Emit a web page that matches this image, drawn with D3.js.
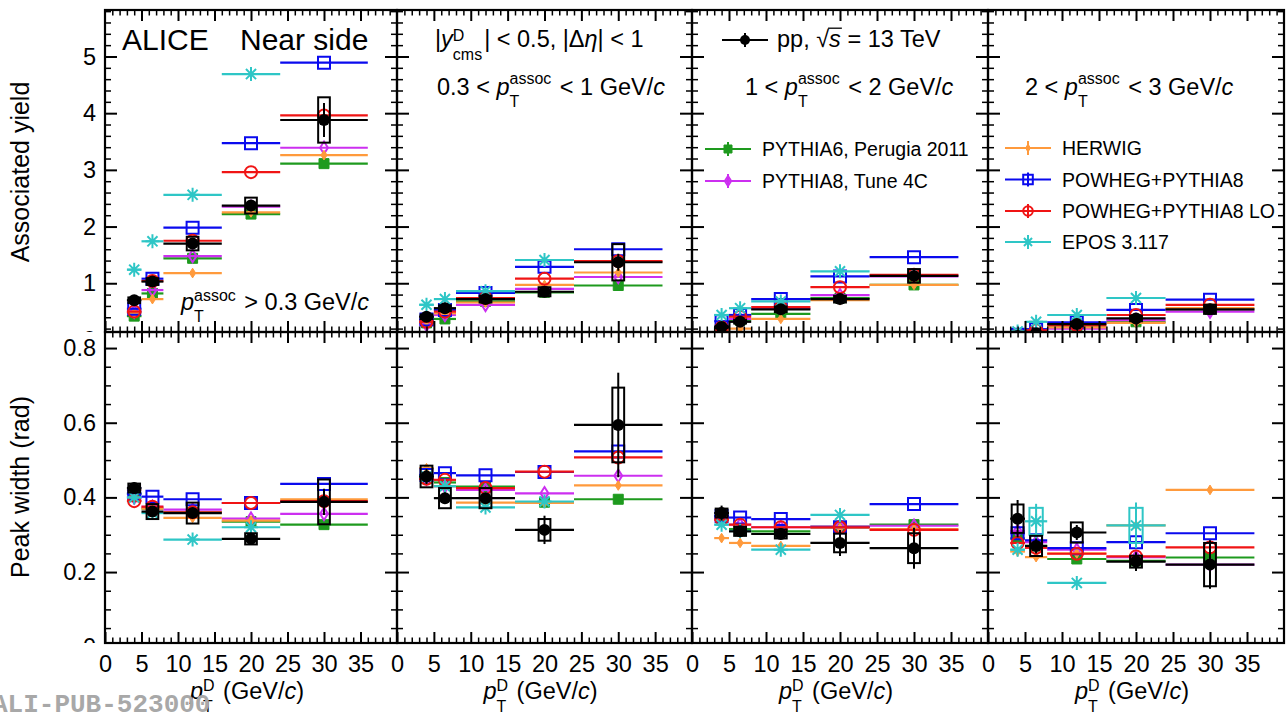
<!DOCTYPE html>
<html>
<head>
<meta charset="utf-8">
<script src="https://cdn.jsdelivr.net/npm/d3@7"></script>
<style>
body { margin: 0; background: #fff; }
svg { display: block; }
text { font-family: "Liberation Sans", Arial, Helvetica, sans-serif; white-space: pre; fill: #000; }
</style>
</head>
<body>
<script>
// D-meson pT bins
var binLo  = [3, 5, 8, 16, 24];
var binHi  = [5, 8, 16, 24, 36];
var binMid = [4, 6.5, 12, 20, 30];

// one row per pT^assoc panel: >0.3, 0.3-1, 1-2, 2-3 GeV/c
var dataYield     = [[0.70, 1.03, 1.70, 2.37, 3.88], [0.41, 0.56, 0.72, 0.85, 1.37], [0.23, 0.32, 0.54, 0.72, 1.13], [0.07, 0.12, 0.28, 0.38, 0.54]];
var dataYieldStat = [[0.03, 0.04, 0.06, 0.10, 0.30], [0.02, 0.03, 0.04, 0.07, 0.15], [0.02, 0.03, 0.04, 0.06, 0.10], [0.02, 0.02, 0.03, 0.04, 0.07]];
var dataYieldSyst = [[0.05, 0.06, 0.12, 0.14, 0.40], [0.04, 0.05, 0.06, 0.08, 0.32], [0.02, 0.03, 0.05, 0.06, 0.12], [0.02, 0.02, 0.04, 0.05, 0.08]];

var dataWidth     = [[0.425, 0.362, 0.358, 0.289, 0.388], [0.456, 0.398, 0.398, 0.313, 0.594], [0.358, 0.309, 0.302, 0.278, 0.264], [0.343, 0.270, 0.306, 0.228, 0.220]];
var dataWidthStat = [[0.015, 0.012, 0.012, 0.012, 0.035], [0.020, 0.015, 0.015, 0.038, 0.140], [0.020, 0.012, 0.012, 0.035, 0.055], [0.050, 0.020, 0.020, 0.025, 0.065]];
var dataWidthSyst = [[0.012, 0.020, 0.028, 0.015, 0.060], [0.029, 0.027, 0.027, 0.029, 0.100], [0.012, 0.012, 0.012, 0.025, 0.040], [0.038, 0.027, 0.027, 0.016, 0.058]];

var pythia6Yield = [[0.42, 0.82, 1.44, 2.22, 3.11], [0.30, 0.37, 0.68, 0.84, 0.96], [0.20, 0.35, 0.46, 0.74, 0.97], [0.07, 0.12, 0.22, 0.32, 0.54]];
var pythia8Yield = [[0.50, 0.88, 1.48, 2.35, 3.39], [0.27, 0.44, 0.62, 0.90, 1.11], [0.20, 0.37, 0.55, 0.79, 1.12], [0.07, 0.12, 0.20, 0.35, 0.50]];
var herwigYield  = [[0.48, 0.72, 1.18, 2.25, 3.26], [0.33, 0.47, 0.66, 0.97, 1.19], [0.18, 0.20, 0.37, 0.70, 0.97], [0.06, 0.10, 0.22, 0.30, 0.56]];
var powhegYield  = [[0.55, 1.08, 1.98, 3.47, 4.89], [0.36, 0.53, 0.83, 1.29, 1.60], [0.33, 0.44, 0.72, 1.12, 1.46], [0.09, 0.19, 0.31, 0.53, 0.71]];
var powhegLOYield = [[0.50, 1.04, 1.75, 2.96, 3.96], [0.32, 0.50, 0.74, 1.08, 1.39], [0.22, 0.41, 0.58, 0.93, 1.15], [0.08, 0.17, 0.26, 0.44, 0.62]];
var eposYield    = [[1.24, 1.74, 2.56, 4.69, null], [0.62, 0.72, 0.86, 1.41, null], [0.44, 0.56, 0.68, 1.21, null], [0.15, 0.32, 0.44, 0.74, null]];

var pythia6Width = [[0.41, 0.37, 0.36, 0.335, 0.327], [0.45, 0.44, 0.429, 0.387, 0.395], [0.35, 0.315, 0.309, 0.322, 0.327], [0.29, 0.27, 0.235, 0.23, 0.239]];
var pythia8Width = [[0.40, 0.375, 0.367, 0.343, 0.356], [0.45, 0.43, 0.42, 0.411, 0.458], [0.345, 0.327, 0.32, 0.322, 0.324], [0.31, 0.28, 0.26, 0.24, 0.22]];
var herwigWidth  = [[0.42, 0.37, 0.345, 0.338, 0.395], [0.478, 0.43, 0.386, 0.385, 0.432], [0.291, 0.278, 0.27, 0.318, 0.315], [0.255, 0.24, 0.25, 0.325, 0.42]];
var powhegWidth  = [[0.41, 0.402, 0.395, 0.385, 0.436], [0.46, 0.465, 0.459, 0.468, 0.523], [0.35, 0.346, 0.342, 0.32, 0.382], [0.304, 0.285, 0.264, 0.28, 0.304]];
var powhegLOWidth = [[0.39, 0.375, 0.36, 0.385, 0.39], [0.45, 0.447, 0.425, 0.469, 0.507], [0.34, 0.327, 0.32, 0.32, 0.313], [0.278, 0.265, 0.249, 0.242, 0.266]];
var eposWidth    = [[0.40, 0.358, 0.287, 0.32, null], [0.456, 0.43, 0.373, 0.389, null], [0.327, 0.31, 0.26, 0.353, null], [0.26, 0.336, 0.171, 0.325, null]];
var eposWidthSyst = [[0, 0, 0, 0, null], [0, 0, 0, 0, null], [0, 0, 0, 0, null], [0, 0.036, 0, 0.047, null]];

var xTicks = [0, 5, 10, 15, 20, 25, 30, 35];

var models = [
	{name: "PYTHIA6, Perugia 2011", color: "#1e9a1e", shape: "square", fill: true, size: 5, yield: pythia6Yield, width: pythia6Width},
	{name: "PYTHIA8, Tune 4C", color: "#cc2ff0", shape: "diamond", fill: false, size: 4.6, yield: pythia8Yield, width: pythia8Width},
	{name: "HERWIG", color: "#ff9a3c", shape: "diamond", fill: true, size: 3.6, yield: herwigYield, width: herwigWidth},
	{name: "POWHEG+PYTHIA8", color: "#0a0aee", shape: "square", fill: false, size: 6, yield: powhegYield, width: powhegWidth},
	{name: "POWHEG+PYTHIA8 LO", color: "#f01414", shape: "circle", fill: false, size: 6, yield: powhegLOYield, width: powhegLOWidth},
	{name: "EPOS 3.117", color: "#2ec6c6", shape: "star", fill: false, size: 7, yield: eposYield, width: eposWidth, widthSyst: eposWidthSyst}
];

var svg = d3.select("body").append("svg")
	.attr("width", 1287)
	.attr("height", 719);
var defs = svg.append("defs");

var xEdges = [105, 397, 692, 988, 1284];
var rows = [
	{key: "yield", top: 10, bottom: 332, domain: [0.14, 5.82], major: [0, 1, 2, 3, 4, 5],
	 minor: d3.range(1, 30).filter(function(i) { return i % 5 != 0; }).map(function(i) { return i * 0.2; }),
	 fmt: d3.format("d")},
	{key: "width", top: 332, bottom: 643, domain: [0.01, 0.843], major: [0, 0.2, 0.4, 0.6, 0.8],
	 minor: d3.range(1, 17).filter(function(i) { return i % 4 != 0; }).map(function(i) { return i * 0.05; }),
	 fmt: function(d) { return d == 0 ? "0" : d3.format(".1f")(d); }}
];

function markerPath(shape, s) {
	if (shape == "square") return "M" + (-s) + "," + (-s) + "h" + 2 * s + "v" + 2 * s + "h" + (-2 * s) + "Z";
	if (shape == "circle") return "M" + (-s) + ",0A" + s + "," + s + " 0 1,0 " + s + ",0A" + s + "," + s + " 0 1,0 " + (-s) + ",0Z";
	if (shape == "diamond") return "M0," + (-1.35 * s) + "L" + 0.85 * s + ",0L0," + 1.35 * s + "L" + (-0.85 * s) + ",0Z";
	// asterisk, 8 arms
	var a = 0.72 * s;
	return "M" + (-s) + ",0H" + s + "M0," + (-s) + "V" + s +
		"M" + (-a) + "," + (-a) + "L" + a + "," + a + "M" + (-a) + "," + a + "L" + a + "," + (-a);
}

function drawMarker(g, m, cx, cy) {
	g.append("path")
		.attr("d", markerPath(m.shape, m.size))
		.attr("transform", "translate(" + cx + "," + cy + ")")
		.attr("fill", m.fill ? m.color : "none")
		.attr("stroke", m.color)
		.attr("stroke-width", m.fill ? 1 : 2);
}

function toPoints(vals) {
	return vals.map(function(v, i) { return {lo: binLo[i], hi: binHi[i], mid: binMid[i], v: v, i: i}; })
		.filter(function(d) { return d.v != null; });
}

// text with stacked super/subscripts, ROOT-latex like
function richText(g, x, y, parts, size, anchor) {
	var t = g.append("g");
	var cx = 0;
	parts.forEach(function(p) {
		if (p.sup !== undefined) {
			var small = size * 0.68;
			var s1 = t.append("text").attr("x", cx).attr("y", p.supDy || -10).style("font-size", small + "px").text(p.sup);
			var s2 = t.append("text").attr("x", cx).attr("y", p.subDy || 12).style("font-size", small + "px").text(p.sub);
			cx += Math.max(s1.node().getComputedTextLength(), s2.node().getComputedTextLength()) + 2;
		} else {
			var e = t.append("text").attr("x", cx).attr("y", 0).style("font-size", size + "px").text(p.t);
			if (p.i) e.style("font-style", "italic");
			var w = e.node().getComputedTextLength();
			if (p.over) {
				t.append("line").attr("x1", cx - 1).attr("x2", cx + w + 1)
					.attr("y1", -size * 0.8).attr("y2", -size * 0.8)
					.attr("stroke", "#000").attr("stroke-width", 1.3);
			}
			cx += w;
		}
	});
	var x0 = anchor == "middle" ? x - cx / 2 : (anchor == "end" ? x - cx : x);
	t.attr("transform", "translate(" + x0 + "," + y + ")");
}

function styleAxis(sel, width) {
	sel.select(".domain").remove();
	sel.selectAll("line").attr("stroke", "#000").attr("stroke-width", width);
	sel.selectAll("text").style("font-size", "23.5px");
}

rows.forEach(function(row, r) {
	var y = d3.scaleLinear().domain(row.domain).range([row.bottom, row.top]);

	for (var p = 0; p < 4; p++) {
		var x = d3.scaleLinear().domain([0, 40]).range([xEdges[p], xEdges[p + 1]]);
		var clipId = "clip" + r + "_" + p;
		defs.append("clipPath").attr("id", clipId).append("rect")
			.attr("x", xEdges[p]).attr("y", row.top)
			.attr("width", xEdges[p + 1] - xEdges[p]).attr("height", row.bottom - row.top);

		var plot = svg.append("g").attr("clip-path", "url(#" + clipId + ")");

		//	models
		models.forEach(function(m) {
			var pts = toPoints(m[row.key][p]);
			var syst = m[row.key + "Syst"];
			if (syst) {
				pts.forEach(function(d) {
					var e = syst[p][d.i];
					if (!e) return;
					plot.append("rect")
						.attr("x", x(d.mid - 0.9)).attr("width", x(d.mid + 0.9) - x(d.mid - 0.9))
						.attr("y", y(d.v + e)).attr("height", y(d.v - e) - y(d.v + e))
						.attr("fill", "none").attr("stroke", m.color).attr("stroke-width", 2);
					plot.append("line")
						.attr("x1", x(d.mid)).attr("x2", x(d.mid))
						.attr("y1", y(d.v + e * 1.3)).attr("y2", y(d.v - e * 1.3))
						.attr("stroke", m.color).attr("stroke-width", 2);
				});
			}
			plot.append("g").selectAll("line")
				.data(pts)
				.enter().append("line")
				.attr("x1", function(d) { return x(d.lo); })
				.attr("x2", function(d) { return x(d.hi); })
				.attr("y1", function(d) { return y(d.v); })
				.attr("y2", function(d) { return y(d.v); })
				.attr("stroke", m.color)
				.attr("stroke-width", 2.2);
			pts.forEach(function(d) { drawMarker(plot, m, x(d.mid), y(d.v)); });
		});

		//	data
		var vals = row.key == "yield" ? dataYield[p] : dataWidth[p];
		var stat = row.key == "yield" ? dataYieldStat[p] : dataWidthStat[p];
		var syst = row.key == "yield" ? dataYieldSyst[p] : dataWidthSyst[p];
		var dpts = toPoints(vals);

		plot.append("g").selectAll("rect")
			.data(dpts)
			.enter().append("rect")
			.attr("x", function(d) { return x(d.mid - 0.8); })
			.attr("width", function(d) { return x(d.mid + 0.8) - x(d.mid - 0.8); })
			.attr("y", function(d) { return y(d.v + syst[d.i]); })
			.attr("height", function(d) { return y(d.v - syst[d.i]) - y(d.v + syst[d.i]); })
			.attr("fill", "none")
			.attr("stroke", "#000")
			.attr("stroke-width", 2);

		var dg = plot.append("g");
		dg.selectAll(".hbar")
			.data(dpts)
			.enter().append("line")
			.attr("x1", function(d) { return x(d.lo); })
			.attr("x2", function(d) { return x(d.hi); })
			.attr("y1", function(d) { return y(d.v); })
			.attr("y2", function(d) { return y(d.v); })
			.attr("stroke", "#000").attr("stroke-width", 2.2);
		dg.selectAll(".vbar")
			.data(dpts)
			.enter().append("line")
			.attr("x1", function(d) { return x(d.mid); })
			.attr("x2", function(d) { return x(d.mid); })
			.attr("y1", function(d) { return y(d.v + stat[d.i]); })
			.attr("y2", function(d) { return y(d.v - stat[d.i]); })
			.attr("stroke", "#000").attr("stroke-width", 2);
		dg.selectAll("circle")
			.data(dpts)
			.enter().append("circle")
			.attr("cx", function(d) { return x(d.mid); })
			.attr("cy", function(d) { return y(d.v); })
			.attr("r", 6)
			.attr("fill", "#000");

		//	axes: ticks inward on all four sides
		var minorX = d3.range(1, 40).filter(function(i) { return i % 5 != 0; });
		svg.append("g").attr("transform", "translate(0," + row.bottom + ")")
			.call(d3.axisBottom(x).tickValues(xTicks).tickSizeInner(-11).tickSizeOuter(0).tickPadding(12)
				.tickFormat(r == 1 ? d3.format("d") : ""))
			.call(styleAxis, 2);
		svg.append("g").attr("transform", "translate(0," + row.bottom + ")")
			.call(d3.axisBottom(x).tickValues(minorX).tickSizeInner(-5.5).tickSizeOuter(0).tickFormat(""))
			.call(styleAxis, 1.5);
		svg.append("g").attr("transform", "translate(0," + row.top + ")")
			.call(d3.axisTop(x).tickValues(xTicks.slice(1)).tickSizeInner(-11).tickSizeOuter(0).tickFormat(""))
			.call(styleAxis, 2);
		svg.append("g").attr("transform", "translate(0," + row.top + ")")
			.call(d3.axisTop(x).tickValues(minorX).tickSizeInner(-5.5).tickSizeOuter(0).tickFormat(""))
			.call(styleAxis, 1.5);

		var yclip = "yclip" + r + "_" + p;
		defs.append("clipPath").attr("id", yclip).append("rect")
			.attr("x", 0).attr("y", row.top)
			.attr("width", 1287).attr("height", row.bottom - row.top);
		var ya = svg.append("g").attr("clip-path", "url(#" + yclip + ")");
		ya.append("g").attr("transform", "translate(" + xEdges[p] + ",0)")
			.call(d3.axisLeft(y).tickValues(row.major).tickSizeInner(-12).tickSizeOuter(0).tickPadding(9)
				.tickFormat(p == 0 ? row.fmt : ""))
			.call(styleAxis, 2);
		ya.append("g").attr("transform", "translate(" + xEdges[p] + ",0)")
			.call(d3.axisLeft(y).tickValues(row.minor).tickSizeInner(-6).tickSizeOuter(0).tickFormat(""))
			.call(styleAxis, 1.5);
		ya.append("g").attr("transform", "translate(" + xEdges[p + 1] + ",0)")
			.call(d3.axisRight(y).tickValues(row.major).tickSizeInner(-12).tickSizeOuter(0).tickFormat(""))
			.call(styleAxis, 2);
		ya.append("g").attr("transform", "translate(" + xEdges[p + 1] + ",0)")
			.call(d3.axisRight(y).tickValues(row.minor).tickSizeInner(-6).tickSizeOuter(0).tickFormat(""))
			.call(styleAxis, 1.5);

		svg.append("rect")
			.attr("x", xEdges[p]).attr("y", row.top)
			.attr("width", xEdges[p + 1] - xEdges[p]).attr("height", row.bottom - row.top)
			.attr("fill", "none").attr("stroke", "#000").attr("stroke-width", 2.2);

		if (r == 1) {
			richText(svg, (xEdges[p] + xEdges[p + 1]) / 2 - 4, 699,
				[{t: "p", i: 1}, {sup: "D", sub: "T", supDy: -8, subDy: 13}, {t: " (GeV/"}, {t: "c", i: 1}, {t: ")"}], 23.5, "middle");
		}
	}
});

//	axis titles
svg.append("text")
	.attr("transform", "translate(29,172) rotate(-90)")
	.attr("text-anchor", "middle")
	.style("font-size", "25px")
	.text("Associated yield");
svg.append("text")
	.attr("transform", "translate(29,487) rotate(-90)")
	.attr("text-anchor", "middle")
	.style("font-size", "25px")
	.text("Peak width (rad)");

//	annotations
svg.append("text").attr("x", 122).attr("y", 50).style("font-size", "30px").text("ALICE");
svg.append("text").attr("x", 240).attr("y", 50).style("font-size", "30px").text("Near side");
richText(svg, 181, 310, [{t: "p", i: 1}, {sup: "assoc", sub: "T", supDy: -9, subDy: 12}, {t: " > 0.3 GeV/"}, {t: "c", i: 1}], 23.5, "start");

richText(svg, 435, 47, [{t: "|"}, {t: "y", i: 1}, {sup: "D", sub: "cms", supDy: -6, subDy: 13}, {t: "| < 0.5, |Δ"}, {t: "η", i: 1}, {t: "| < 1"}], 23.5, "start");
richText(svg, 437, 95, [{t: "0.3 < "}, {t: "p", i: 1}, {sup: "assoc", sub: "T", supDy: -11, subDy: 12}, {t: " < 1 GeV/"}, {t: "c", i: 1}], 23.5, "start");
richText(svg, 745, 95, [{t: "1 < "}, {t: "p", i: 1}, {sup: "assoc", sub: "T", supDy: -11, subDy: 12}, {t: " < 2 GeV/"}, {t: "c", i: 1}], 23.5, "start");
richText(svg, 1025, 95, [{t: "2 < "}, {t: "p", i: 1}, {sup: "assoc", sub: "T", supDy: -11, subDy: 12}, {t: " < 3 GeV/"}, {t: "c", i: 1}], 23.5, "start");

//	legends
function legendEntry(cx, cy, m) {
	svg.append("line").attr("x1", cx - 23).attr("x2", cx + 23).attr("y1", cy).attr("y2", cy)
		.attr("stroke", m.color).attr("stroke-width", 2);
	svg.append("line").attr("x1", cx).attr("x2", cx).attr("y1", cy - 7).attr("y2", cy + 7)
		.attr("stroke", m.color).attr("stroke-width", 2);
	if (m.shape == "dot") {
		svg.append("circle").attr("cx", cx).attr("cy", cy).attr("r", 5).attr("fill", m.color);
	} else {
		drawMarker(svg, {shape: m.shape, color: m.color, fill: m.fill, size: m.size * 0.8}, cx, cy);
	}
}

legendEntry(745, 40, {color: "#000", shape: "dot"});
richText(svg, 777, 47, [{t: "pp, "}, {t: "√"}, {t: "s", i: 1, over: true}, {t: " = 13 TeV"}], 23.5, "start");

var legendY = [149, 181, 148, 179.5, 211, 242];
models.forEach(function(m, k) {
	var cx = k < 2 ? 728 : 1028;
	legendEntry(cx, legendY[k], m);
	svg.append("text")
		.attr("x", cx + 34).attr("y", legendY[k] + 7)
		.style("font-size", "19.5px")
		.text(m.name);
});

//	publication id
svg.append("text")
	.attr("x", -8).attr("y", 712)
	.style("font-family", "'Liberation Mono', 'DejaVu Sans Mono', monospace")
	.style("font-weight", "bold")
	.style("font-size", "26px")
	.style("fill", "#a8a8a8")
	.text("ALI-PUB-523000");
</script>
</body>
</html>
